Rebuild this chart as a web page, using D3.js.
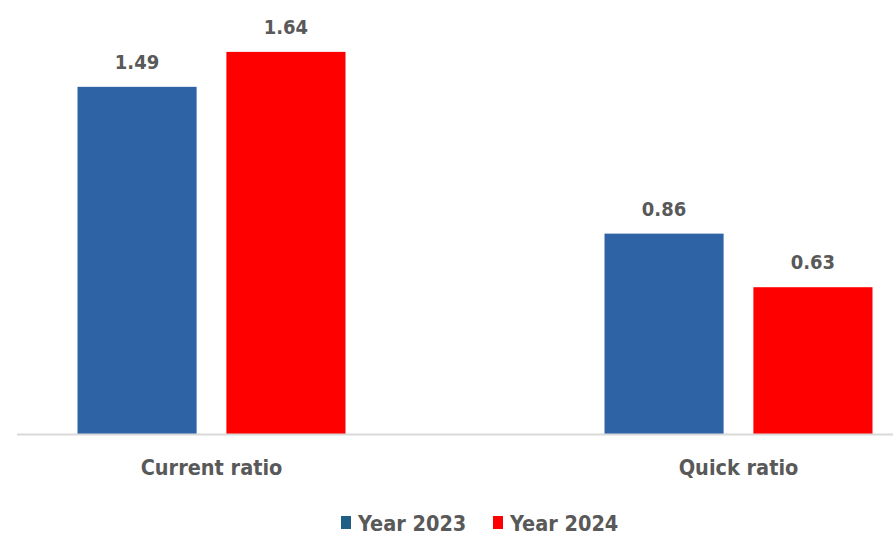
<!DOCTYPE html>
<html>
<head>
<meta charset="utf-8">
<script src="https://cdn.jsdelivr.net/npm/d3@7"></script>
<style>
  body { margin: 0; background: #fff; }
  text { font-family: "DejaVu Sans Condensed", "Liberation Sans Narrow", sans-serif; font-weight: bold; fill: #595959; }
</style>
</head>
<body>
<div id="container"></div>
<script>
/** DATA */
const categories = ["Current ratio", "Quick ratio"];
const seriesNames = ["Year 2023", "Year 2024"];
const values2023 = [1.49, 0.86];
const values2024 = [1.64, 0.63];

/** CONSTANTS */
const width = 893, height = 536;
const baseline = 434;
const barColors = ["#2e64a6", "#ff0000"];
const legendColors = ["#1f5e85", "#ff0000"];

const rows = categories.map((c, i) => ({
  cat: c,
  vals: [values2023[i], values2024[i]]
}));

const svg = d3.select("#container")
  .append("svg")
  .attr("width", width)
  .attr("height", height);

// category scale (plot is clipped on both sides, hence the wide range)
const x0 = d3.scaleBand()
  .domain(categories)
  .range([-52, 1002]);

const x1 = d3.scaleBand()
  .domain(seriesNames)
  .range([0, 268])
  .paddingInner(0.2);

const y = d3.scaleLinear()
  .domain([0, 1.8])
  .range([baseline, baseline - 1.8 * 233]);

// groups
const groups = svg.selectAll(".grp")
  .data(rows)
  .join("g")
  .attr("class", "grp")
  .attr("transform", d => `translate(${x0(d.cat) + x0.bandwidth() / 2 - 134},0)`);

groups.selectAll("rect")
  .data(d => d.vals.map((v, i) => ({ s: seriesNames[i], v, i })))
  .join("rect")
  .attr("x", d => x1(d.s))
  .attr("width", x1.bandwidth())
  .attr("y", d => y(d.v))
  .attr("height", d => baseline - y(d.v))
  .attr("fill", d => barColors[d.i]);

groups.selectAll(".lbl")
  .data(d => d.vals.map((v, i) => ({ s: seriesNames[i], v, i })))
  .join("text")
  .attr("class", "lbl")
  .attr("x", d => x1(d.s) + x1.bandwidth() / 2)
  .attr("y", d => y(d.v) - 18)
  .attr("text-anchor", "middle")
  .style("font-size", "20px")
  .text(d => d.v.toFixed(2));

// axis line
svg.append("line")
  .attr("x1", 17).attr("x2", width)
  .attr("y1", baseline + 0.5).attr("y2", baseline + 0.5)
  .attr("stroke", "#d9d9d9")
  .attr("stroke-width", 2);

// category labels
svg.selectAll(".cat")
  .data(categories)
  .join("text")
  .attr("class", "cat")
  .attr("x", d => x0(d) + x0.bandwidth() / 2)
  .attr("y", 475)
  .attr("text-anchor", "middle")
  .style("font-size", "21.5px")
  .text(d => d);

// legend
const legendX = [341, 493];
const legend = svg.selectAll(".leg")
  .data(seriesNames)
  .join("g")
  .attr("class", "leg")
  .attr("transform", (d, i) => `translate(${legendX[i]},516)`);

legend.append("rect")
  .attr("width", 10).attr("height", 13)
  .attr("fill", (d, i) => legendColors[i]);

legend.append("text")
  .attr("x", 17)
  .attr("y", 14.5)
  .style("font-size", "21.5px")
  .text(d => d);
</script>
</body>
</html>
